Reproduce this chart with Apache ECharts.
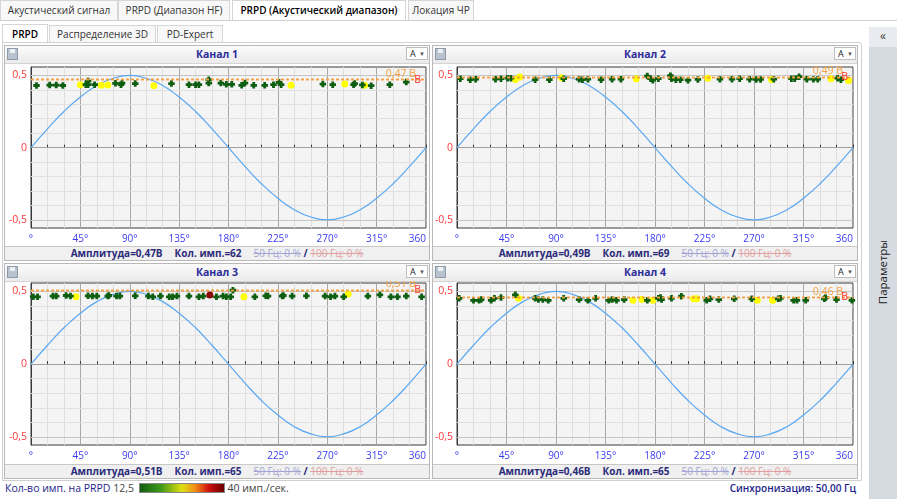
<!DOCTYPE html>
<html>
<head>
<meta charset="utf-8">
<script src="https://cdn.jsdelivr.net/npm/echarts@6.0.0/dist/echarts.min.js"></script>
<style>
body{margin:0;width:897px;height:499px;overflow:hidden;background:#fff;font-family:"Open Sans",sans-serif;font-size:10px;position:relative;color:#222}
.tab{position:absolute;height:20px;line-height:19px;border:1px solid #d6d6d6;border-bottom:none;background:#f8f8f8;color:#333;text-align:center;box-sizing:border-box;white-space:nowrap}
.tab.on{background:#fff;color:#000;font-weight:600;height:21px}
.panel{position:absolute;width:426px;height:216px;border:1px solid #b8b8b8;box-sizing:border-box;background:#fff}
.ptitle{height:17px;background:linear-gradient(#fbfbfb,#ebebeb);border-bottom:1px solid #d4d4d4;position:relative;text-align:center;line-height:16px;font-weight:bold;color:#2d2d9a;font-size:10.5px}
.disk{position:absolute;left:2px;top:2px;width:11px;height:12px;background:#b9c3cf;border:1px solid #8e9aa8;box-sizing:border-box}
.disk:after{content:"";position:absolute;left:2px;top:0;width:5px;height:4px;background:#eef1f4}
.dd{position:absolute;right:1px;top:1px;width:22px;height:13px;background:#fff;border:1px solid #bdbdbd;font-weight:normal;color:#222;font-size:9px;line-height:12px;text-align:left;padding-left:3px;box-sizing:border-box}
.dd b{position:absolute;right:2px;top:0;font-size:6px;color:#555}
.chart{position:absolute;left:0;top:17px;width:424px}
.pstat{position:absolute;left:0;right:0;bottom:0;height:13px;background:#f0f0f0;border-top:1px solid #c8c8c8;text-align:center;font-size:10px;line-height:12px;color:#2b2b7a;white-space:nowrap}
.pstat b{margin-right:12px}
.f50{color:#a4a4d4}
.f100{color:#e0a0a0}
</style>
</head>
<body>
<div class="tab" style="left:0;top:0;width:118px">Акустический сигнал</div>
<div class="tab" style="left:118px;top:0;width:112px">PRPD (Диапазон HF)</div>
<div class="tab on" style="left:232px;top:0;width:174px">PRPD (Акустический диапазон)</div>
<div class="tab" style="left:408px;top:0;width:66px">Локация ЧР</div>
<div style="position:absolute;left:0;top:20px;width:897px;height:1px;background:#d0d0d0"></div>
<div class="tab on" style="left:2px;top:24px;width:46px;height:19px;line-height:18px">PRPD</div>
<div class="tab" style="left:49px;top:25px;width:107px;height:18px;line-height:17px">Распределение 3D</div>
<div class="tab" style="left:157px;top:25px;width:66px;height:18px;line-height:17px">PD-Expert</div>
<div style="position:absolute;left:2px;top:42px;width:860px;height:439px;border:1px solid #d0d0d0;box-sizing:border-box;border-radius:0 3px 0 0"></div>
<div style="position:absolute;left:869px;top:27px;width:28px;height:472px;background:#d6dbe1"></div>
<div style="position:absolute;left:869px;top:27px;width:28px;height:20px;background:#e8ebef;text-align:center;line-height:18px;font-size:12px;color:#444">«</div>
<div style="position:absolute;left:833px;top:264px;width:100px;height:16px;line-height:16px;text-align:center;transform:rotate(-90deg);font-size:11.5px;color:#222">Параметры</div>

<div style="position:absolute;left:5px;top:481px;height:14px;line-height:14px;white-space:nowrap;font-size:10.5px">
  <span style="color:#1e1e8a">Кол-во имп. на PRPD</span>
  <span style="color:#444">12,5</span>
  <span style="display:inline-block;width:84px;height:8px;vertical-align:-1px;margin-left:2px;border:1px solid #888;background:linear-gradient(to right,#0f5f0f,#3f9a1a 25%,#dede10 50%,#f09018 65%,#d01010 82%,#6a0000)"></span>
  <span style="color:#444">40 имп./сек.</span>
</div>
<div style="position:absolute;right:41px;top:481px;height:14px;line-height:14px;color:#1e1e8a;font-weight:600">Синхронизация: 50,00 Гц</div>

<script>
// phase grid of the reference sine (deg) and its values
var phaseSteps = [0, 15, 30, 45, 60, 75, 90, 105, 120, 135, 150, 165, 180, 195, 210, 225, 240, 255, 270, 285, 300, 315, 330, 345, 360]
var refSine = [0, 0.13, 0.25, 0.35, 0.43, 0.48, 0.5, 0.48, 0.43, 0.35, 0.25, 0.13, 0, -0.13, -0.25, -0.35, -0.43, -0.48, -0.5, -0.48, -0.43, -0.35, -0.25, -0.13, 0]

var xTickLabels = ['°', '45°', '90°', '135°', '180°', '225°', '270°', '315°', '360']
var yTickValues = [-0.5, -0.4, -0.3, -0.2, -0.1, 0, 0.1, 0.2, 0.3, 0.4, 0.5]
var yLabelValues = [-0.5, 0, 0.5]

var channelNames = ['Канал 1', 'Канал 2', 'Канал 3', 'Канал 4']
var amplitudes = ['0,47', '0,49', '0,51', '0,46']
var counts = [62, 69, 65, 65]
var thresholds = [0.47, 0.49, 0.51, 0.46]

// pulses [phase, amplitude]
var ch1Green = [[5, 0.43], [17, 0.433], [23, 0.433], [29, 0.43], [50, 0.436], [52, 0.461], [52, 0.436], [58, 0.436], [77, 0.445], [82, 0.436], [83, 0.447], [95, 0.443], [128, 0.443], [144, 0.436], [150, 0.436], [153, 0.436], [162, 0.47], [162, 0.447], [173, 0.447], [178, 0.438], [183, 0.438], [192, 0.431], [195, 0.447], [203, 0.431], [213, 0.431], [221, 0.436], [226, 0.452], [228, 0.436], [266, 0.44], [275, 0.436], [294, 0.436], [295, 0.443], [302, 0.434], [310, 0.429], [327, 0.436], [342, 0.454]]
var ch1Yellow = [[45, 0.436], [64, 0.431], [70, 0.433], [112, 0.429], [237, 0.431], [286, 0.44], [304, 0.431]]

var ch2Green = [[3, 0.477], [12, 0.47], [17, 0.474], [35, 0.474], [40, 0.477], [46, 0.481], [49, 0.481], [71, 0.47], [84, 0.47], [97, 0.477], [111, 0.474], [114, 0.47], [119, 0.474], [131, 0.47], [141, 0.474], [149, 0.474], [173, 0.495], [176, 0.477], [178, 0.467], [183, 0.477], [194, 0.498], [195, 0.477], [199, 0.47], [203, 0.47], [210, 0.467], [219, 0.472], [239, 0.474], [250, 0.474], [257, 0.477], [266, 0.474], [272, 0.472], [276, 0.472], [288, 0.474], [304, 0.477], [307, 0.477], [311, 0.491], [318, 0.474], [324, 0.474], [328, 0.474], [346, 0.481], [349, 0.47]]
var ch2Yellow = [[53, 0.472], [57, 0.488], [95, 0.484], [163, 0.477], [228, 0.481], [286, 0.472], [340, 0.477], [356, 0.465]]

var ch3Green = [[2, 0.463], [6, 0.463], [20, 0.468], [23, 0.468], [32, 0.472], [36, 0.468], [52, 0.47], [56, 0.468], [60, 0.468], [70, 0.468], [71, 0.472], [78, 0.468], [81, 0.468], [95, 0.47], [107, 0.468], [111, 0.463], [118, 0.468], [126, 0.463], [129, 0.463], [133, 0.468], [144, 0.468], [153, 0.463], [157, 0.468], [169, 0.463], [175, 0.468], [178, 0.463], [182, 0.463], [184, 0.509], [204, 0.463], [214, 0.47], [216, 0.468], [229, 0.468], [230, 0.472], [238, 0.468], [251, 0.47], [268, 0.468], [273, 0.463], [277, 0.468], [285, 0.463], [307, 0.468], [318, 0.477], [328, 0.463], [334, 0.463], [342, 0.468], [356, 0.463]]
var ch3Yellow = [[41, 0.463], [194, 0.463], [289, 0.482]]
var ch3Red = [[163, 0.475]]

var ch4Green = [[2, 0.453], [15, 0.439], [20, 0.439], [22, 0.444], [31, 0.439], [34, 0.453], [40, 0.458], [53, 0.477], [71, 0.453], [74, 0.444], [78, 0.444], [83, 0.439], [97, 0.453], [111, 0.444], [119, 0.439], [126, 0.453], [138, 0.439], [141, 0.444], [145, 0.439], [152, 0.444], [173, 0.439], [183, 0.453], [185, 0.458], [186, 0.444], [195, 0.453], [204, 0.467], [227, 0.439], [230, 0.449], [238, 0.444], [252, 0.449], [268, 0.449], [292, 0.449], [294, 0.453], [306, 0.439], [309, 0.439], [317, 0.439], [334, 0.449], [335, 0.458], [345, 0.444], [359, 0.439]]
var ch4Yellow = [[56, 0.453], [160, 0.439], [168, 0.444], [178, 0.439], [215, 0.449], [218, 0.449], [273, 0.439], [287, 0.439]]

var greens = [ch1Green, ch2Green, ch3Green, ch4Green]
var yellows = [ch1Yellow, ch2Yellow, ch3Yellow, ch4Yellow]
var reds = [[], [], ch3Red, []]

var panels = [
  { left: 4, top: 45, h: 184, gl: 26, gr: 3, gt: 4, gb: 19 },
  { left: 432, top: 45, h: 184, gl: 24, gr: 4, gt: 4, gb: 19 },
  { left: 4, top: 263, h: 184, gl: 26, gr: 3, gt: 2, gb: 20 },
  { left: 432, top: 263, h: 184, gl: 24, gr: 4, gt: 2, gb: 20 },
]

var plusPath = 'path://M2,0H5V2H7V5H5V7H2V5H0V2H2Z'
var thrColor = '#f5a040'

function fmt(v) {
  return String(v).replace('.', ',')
}

function buildPanel(i) {
  var p = panels[i]
  var el = document.createElement('div')
  el.className = 'panel'
  el.style.left = p.left + 'px'
  el.style.top = p.top + 'px'
  el.innerHTML =
    '<div class="ptitle"><div class="disk"></div>' + channelNames[i] + '<div class="dd">A<b>▼</b></div></div>' +
    '<div class="chart" id="c' + i + '" style="height:' + p.h + 'px"></div>' +
    '<div class="pstat"><b>Амплитуда=' + amplitudes[i] + 'В</b><b>Кол. имп.=' + counts[i] + '</b>' +
    '<s class="f50">50 Гц: 0 %</s> <span style="font-weight:bold">/</span> <s class="f100">100 Гц: 0 %</s></div>'
  document.body.appendChild(el)

  var chart = echarts.init(document.getElementById('c' + i), null, { renderer: 'canvas' })
  var sineData = phaseSteps.map(function (ph, k) { return [ph, refSine[k]] })
  var gridLines = yTickValues.map(function (v) {
    var major = v === 0 || Math.abs(v) === 0.5
    return { yAxis: v, lineStyle: { color: major ? (v === 0 ? '#a0a0a0' : '#c4c4c4') : '#e0e0e0', width: 1, type: 'solid' } }
  })

  chart.setOption({
    animation: false,
    grid: {
      left: p.gl, right: p.gr, top: p.gt, bottom: p.gb,
      outerBoundsMode: 'none', containLabel: false,
      show: true, backgroundColor: '#f4f4f4', borderColor: '#3a3a3a', borderWidth: 1,
    },
    xAxis: {
      type: 'value', min: 0, max: 360, interval: 15,
      axisLine: { lineStyle: { color: '#3a3a3a' } },
      axisTick: { inside: true, length: 3, lineStyle: { color: '#3a3a3a' } },
      axisLabel: {
        color: '#3a3af0', fontSize: 10, margin: 6, fontFamily: 'Open Sans',
        alignMaxLabel: 'right',
        formatter: function (v) { return v % 45 === 0 ? xTickLabels[v / 45] : '' },
      },
      splitLine: { show: true, lineStyle: { color: ['#a8a8a8', '#dedede', '#dedede'], width: 1 } },
    },
    yAxis: {
      type: 'value', min: -0.556, max: 0.558,
      axisLine: { show: true, lineStyle: { color: '#3a3a3a' } },
      axisTick: { show: true, inside: true, length: 4, customValues: yTickValues, lineStyle: { color: '#3a3a3a' } },
      axisLabel: { color: '#ff3a3a', fontSize: 10.5, margin: 4, fontFamily: 'Open Sans', customValues: yLabelValues, formatter: fmt },
      splitLine: { show: false },
    },
    series: [
      {
        type: 'line', data: sineData, smooth: true, showSymbol: false, silent: true, z: 2,
        lineStyle: { color: '#5aa8f2', width: 1.2 },
        markLine: { silent: true, symbol: 'none', label: { show: false }, data: gridLines, z: 1 },
      },
      {
        type: 'scatter', data: greens[i], symbol: plusPath, symbolSize: 6.5, z: 4,
        itemStyle: { color: '#0e5e12', opacity: 1 },
        markLine: {
          silent: true, symbol: 'none',
          lineStyle: { color: thrColor, type: [3, 2], width: 1.3 },
          data: [
            {
              yAxis: thresholds[i],
              label: {
                show: true, position: 'insideEndTop', distance: [10, 0],
                formatter: fmt(thresholds[i]) + ' В', color: thrColor, fontSize: 10.5, fontFamily: 'Open Sans',
              },
            },
            {
              yAxis: thresholds[i],
              label: {
                show: true, position: 'insideEnd', distance: 5,
                formatter: 'В', color: '#ff3030', fontSize: 10.5, fontFamily: 'Open Sans',
              },
            },
          ],
        },
      },
      {
        type: 'scatter', data: yellows[i], symbol: 'circle', symbolSize: 7, z: 3,
        itemStyle: { color: '#ffff00', opacity: 1 },
      },
      {
        type: 'scatter', data: reds[i], symbol: 'circle', symbolSize: 7, z: 5,
        itemStyle: { color: '#8a0a0a', opacity: 1 },
      },
    ],
  })
}

for (var n = 0; n < 4; n++) {
  buildPanel(n)
}
</script>
</body>
</html>
